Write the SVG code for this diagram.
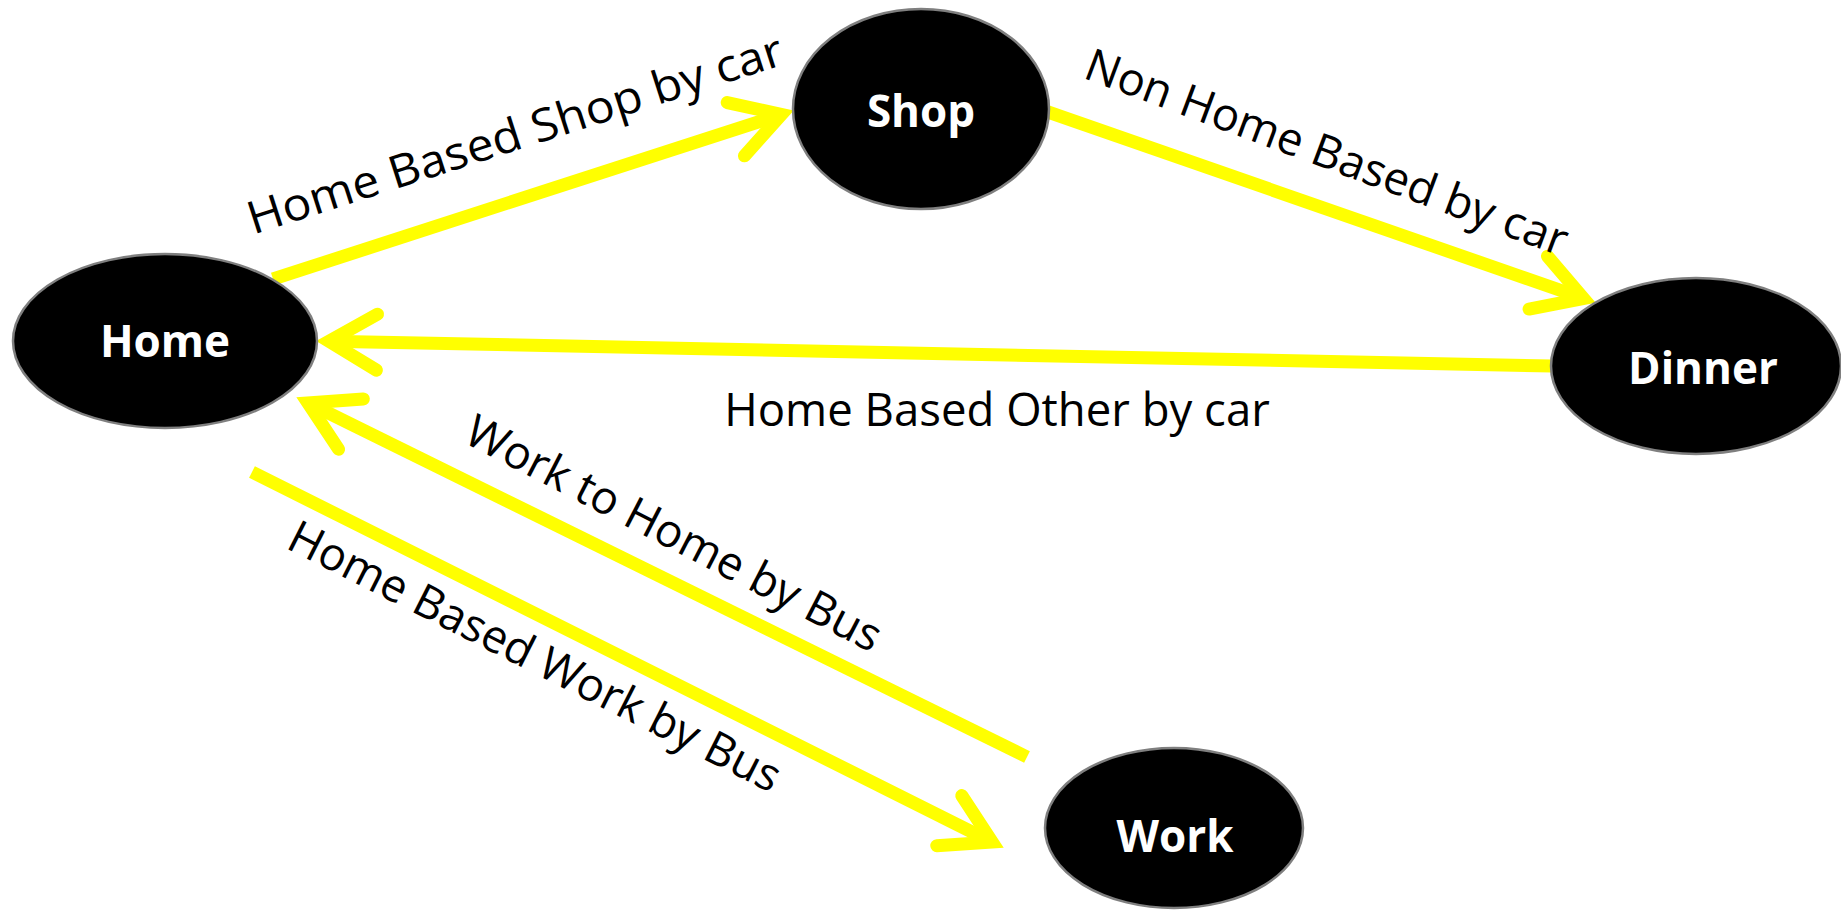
<svg xmlns="http://www.w3.org/2000/svg" width="1841" height="918" viewBox="0 0 1841 918">
<style>
.node ellipse{fill:#000;stroke:#7f7f7f;stroke-width:2.5}
.node text{fill:#fff;font-family:"Open Sans","Liberation Sans",sans-serif;font-weight:bold;font-size:44px;text-anchor:middle}
.edge{fill:none;stroke:#ffff00;stroke-width:13;stroke-linecap:butt;marker-end:url(#chev)}
.lbl{fill:#000;font-family:"Open Sans","Liberation Sans",sans-serif;font-size:45.5px;text-anchor:middle}
</style>
<defs>
<marker id="chev" markerUnits="userSpaceOnUse" viewBox="-70 -45 90 90" markerWidth="90" markerHeight="90" refX="0" refY="0" orient="auto" overflow="visible">
<path d="M-48,-28 L0,0 L-48,28" fill="none" stroke="#ffff00" stroke-width="13" stroke-linecap="round" stroke-linejoin="miter"/>
</marker>
</defs>
<rect width="1841" height="918" fill="#fff"/>
<g id="connectors">
<line class="edge" x1="273" y1="279" x2="781.5" y2="114.4"/>
<line class="edge" x1="1048" y1="112" x2="1583.6" y2="298.4"/>
<line class="edge" x1="1552" y1="366" x2="329" y2="341.2"/>
<line class="edge" x1="1027" y1="757" x2="307.9" y2="402.9"/>
<line class="edge" x1="252" y1="472" x2="992.2" y2="842.1"/>
<text class="lbl" transform="translate(515,134) rotate(-17.8)" x="0" y="16" textLength="560" lengthAdjust="spacingAndGlyphs">Home Based Shop by car</text>
<text class="lbl" transform="translate(1327,152) rotate(20.5)" x="0" y="16">Non Home Based by car</text>
<text class="lbl" x="997" y="426">Home Based Other by car</text>
<text class="lbl" transform="translate(674,533) rotate(27.3)" x="0" y="16">Work to Home by Bus</text>
<text class="lbl" transform="translate(535,656) rotate(26.8)" x="0" y="16" textLength="545" lengthAdjust="spacingAndGlyphs">Home Based Work by Bus</text>
</g>
<g id="home" class="node"><ellipse cx="165" cy="341" rx="152" ry="87"/><text x="165" y="357">Home</text></g>
<g id="shop" class="node"><ellipse cx="921" cy="109" rx="128" ry="100"/><text x="921" y="127">Shop</text></g>
<g id="dinner" class="node"><ellipse cx="1696" cy="366" rx="145" ry="88"/><text x="1703" y="384">Dinner</text></g>
<g id="work" class="node"><ellipse cx="1174" cy="828" rx="129" ry="80"/><text x="1175" y="852">Work</text></g>
</svg>
